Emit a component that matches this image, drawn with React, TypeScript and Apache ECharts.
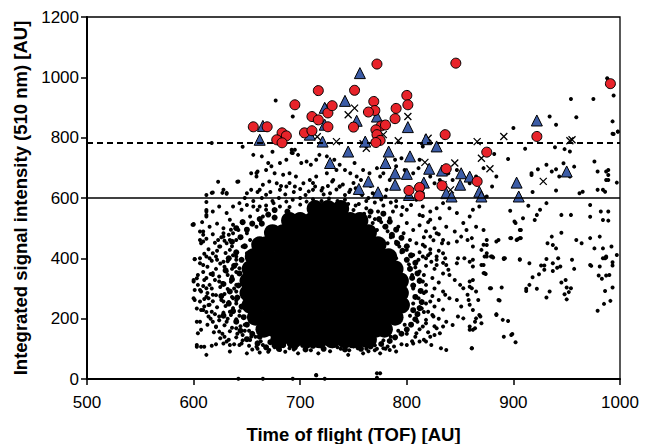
import React, { useEffect, useRef } from "react";
import * as echarts from "echarts";

const dashedThreshold = 782;
const solidThreshold = 600;

// Dense core of the cloud: rows [y, x positions]
const coreRows: [number, number[]][] = [
  [565, [714, 726, 738]],
  [525, [690, 700, 711, 723, 735, 747, 756]],
  [485, [674, 684, 695, 707, 719, 731, 743, 755, 764]],
  [445, [662, 668, 680, 692, 704, 716, 728, 740, 752, 763, 773]],
  [405, [656, 661, 670, 682, 694, 706, 718, 730, 742, 754, 766, 776, 783]],
  [365, [653, 664, 676, 688, 700, 712, 724, 736, 748, 760, 772, 782, 789]],
  [325, [651, 659, 671, 683, 695, 707, 719, 731, 743, 755, 767, 779, 789, 794]],
  [285, [651, 664, 676, 688, 700, 712, 724, 736, 748, 760, 772, 784, 794]],
  [245, [653, 660, 672, 684, 696, 708, 720, 732, 744, 756, 768, 780, 791, 795]],
  [205, [658, 670, 682, 694, 706, 718, 730, 742, 754, 766, 778, 789]],
  [165, [666, 676, 688, 700, 712, 724, 736, 748, 760, 771, 779]],
  [130, [680, 694, 706, 718, 730, 742, 754, 764]],
];

// Crowded edge of the cloud (medium dots)
const rimDots: number[][] = [
  [646,520],[640,500],[650,495],[644,470],[636,455],[648,440],[640,420],[633,400],[645,395],[638,375],[630,360],[643,350],[636,330],[628,315],[642,310],[634,290],[626,275],[641,270],[633,250],[645,240],[637,225],[628,210],[647,205],[640,190],[650,180],[644,160],[655,150],[650,132],[662,140],[660,118],[672,122],[668,105],[684,112],[680,100],[695,105],[705,98],[712,110],[722,100],[730,112],[742,98],[748,112],[757,100],[766,108],[776,116],[784,126],[789,138],[795,150],[800,164],[804,180],[808,198],[810,215],[812,235],[806,228],[814,255],[808,272],[813,292],[806,310],[812,325],[805,335],[810,350],[803,365],[808,385],[800,395],[804,410],[796,425],[800,440],[791,450],[795,468],[786,478],[790,495],[780,505],[784,522],[774,530],[778,548],[766,555],[676,560],[670,545],[662,530],[655,515],[664,515],[676,535],[688,555],
];

// Speckled fringe around the crowded core
const fringeDots: number[][] = [
  [608,520],[615,505],[622,515],[628,500],[635,495],[618,480],[626,470],[633,478],[612,465],[620,452],[629,458],[636,440],[614,430],[622,425],[630,418],[637,410],[610,415],[617,392],[625,383],[632,390],[640,395],[613,372],[621,365],[629,372],[636,365],[609,355],[616,348],[624,340],[632,345],[640,355],[612,335],[620,328],[627,318],[635,322],[609,308],[617,300],[625,305],[632,298],[640,290],[613,285],[621,278],[629,282],[636,272],[610,265],[618,258],[626,262],[633,255],[640,260],[614,245],[622,238],[630,242],[637,235],[612,222],[620,215],[628,220],[635,212],[643,225],[616,200],[624,195],[632,200],[640,198],[613,180],[621,172],[629,178],[636,170],[644,175],[619,155],[627,150],[634,158],[641,150],[648,160],[625,135],[633,130],[640,138],[646,128],[654,140],[638,115],[645,118],[652,110],[660,100],[670,90],
  [660,560],[668,575],[674,590],[680,600],[686,612],[694,620],[700,630],[708,622],[714,638],[720,625],[726,640],[734,628],[740,645],[746,620],[752,632],[758,610],[764,600],[770,612],[776,595],[682,640],[690,650],[712,650],[730,655],[750,650],[766,640],[780,605],[785,585],[790,590],[796,570],[672,620],[664,600],[656,590],[648,600],[660,620],
  [815,540],[820,520],[812,510],[826,500],[818,490],[830,480],[816,470],[825,460],[833,450],[815,445],[822,430],[830,425],[812,420],[820,410],[828,395],[834,385],[818,375],[826,365],[834,350],[816,345],[824,335],[830,320],[818,312],[826,300],[834,290],[816,285],[824,275],[830,262],[818,250],[826,240],[834,230],[816,222],[824,212],[830,200],[818,185],[826,175],[812,165],[820,155],[808,140],[816,130],[805,125],[795,115],[788,108],[780,100],[770,95],[762,100],
  [655,98],[662,88],[676,105],[686,90],[694,98],[702,110],[710,95],[720,108],[728,92],[738,100],[746,95],[754,102],[764,92],[772,100],[782,108],
];

const cloudDots: number[][] = [
  [656,743],[664,738],[673,705],[681,716],[687,727],[693,749],[695,760],[698,743],[701,716],[706,721],[710,710],[715,727],[718,743],[725,738],[654,682],[660,688],[659,671],[668,693],[676,682],[678,649],[684,677],[690,682],[696,671],[671,655],[665,644],[662,627],[654,627],[642,655],[628,627],[618,618],[631,614],[650,616],[668,611],[681,627],[687,638],[695,638],[703,649],[709,660],[715,671],[725,682],[731,660],[734,693],[712,627],[721,633],[728,616],[737,638],
  [600,511],[609,489],[606,461],[607,450],[612,555],[612,539],[618,555],[624,572],[631,550],[637,572],[643,583],[645,561],[650,577],[653,539],[656,572],[634,528],[637,511],[642,494],[628,483],[623,461],[631,450],[624,439],[618,417],[612,406],[606,400],[646,517],[650,483],[659,505],[665,539],[662,572],[668,561],[675,583],[681,572],[687,588],[640,461],[646,439],[653,461],[634,428],[640,406],[659,428],[650,417],
  [693,594],[700,600],[706,588],[712,596],[720,590],[727,598],[735,590],[742,594],[700,578],[716,580],[730,578],[745,580],[752,575],[690,570],[742,610],[722,612],[705,610],
  [601,398],[609,378],[615,400],[621,406],[600,328],[604,345],[604,312],[610,328],[612,301],[607,290],[601,295],[600,268],[606,257],[610,240],[607,229],[615,246],[617,223],[614,207],[603,190],[607,163],[618,190],[621,174],[624,207],[624,157],[629,140],[631,124],[634,113],[628,118],[621,115],[617,110],[603,113],[610,107],[612,80],[634,91],[650,85],[643,113],[659,107],[665,113],[671,96],[681,96],[690,102],[698,85],[706,113],[715,124],[717,85],[725,118],[715,13],[628,389],[631,356],[624,323],[634,290],[628,257],[634,223],[631,190],[640,168],[646,146],[653,129],[637,268],[640,312],[643,367],[618,345],[618,279],[614,268],
  [640,380],[636,340],[638,300],[640,250],[643,210],[648,180],[652,160],[658,140],[663,125],[675,110],[690,112],[735,105],[750,108],[760,112],[768,118],
  [732,727],[737,710],[742,693],[747,682],[751,716],[753,671],[759,693],[757,660],[765,682],[772,699],[775,671],[778,682],[784,660],[789,727],[790,705],[795,732],[798,693],[800,671],[806,682],[811,699],[812,727],[815,771],[822,671],[826,649],[831,660],[839,682],[843,660],[847,693],[851,638],[859,649],[865,671],[872,699],[875,605],[868,572],[862,561],[859,539],[853,517],[847,550],[840,566],[834,583],[828,566],[822,555],[815,572],[812,544],[809,594],[804,577],[800,561],[795,544],[790,572],[787,555],[784,533],[822,528],[831,533],[837,505],[845,489],[851,472],[857,461],[862,439],[870,428],[875,461],[872,494],[865,505],[856,494],[847,456],[839,450],[834,461],[828,483],[822,472],[817,439],[822,417],[828,406],[834,417],[815,406],[809,450],[803,461],[806,494],[797,483],[800,517],[792,505],[787,472],[782,450],[778,428],[784,411],[793,439],[800,428],[806,411],[811,395],[790,400],[775,461],[772,494],[779,505],[768,517],[765,539],[773,555],[762,566],[747,627],[756,616],[737,638],[768,616],[781,627],[800,627],[809,638],[815,616],
  [755,580],[762,590],[770,585],[778,575],[750,560],[760,548],[770,530],[776,520],[782,490],[785,470],[790,455],[795,420],
  [818,400],[823,389],[828,378],[836,400],[837,378],[839,362],[840,345],[847,384],[848,400],[854,400],[859,389],[862,373],[870,378],[872,351],[875,406],[845,328],[850,312],[853,301],[859,306],[862,328],[857,279],[865,290],[836,279],[840,268],[847,262],[851,240],[859,246],[862,229],[865,201],[868,212],[870,185],[859,163],[864,168],[853,201],[848,207],[843,179],[837,190],[834,174],[831,152],[826,146],[822,140],[828,168],[818,124],[823,113],[832,102],[837,96],[861,102],[812,124],[806,118],[800,113],[790,91],[784,96],[778,102],[775,85],[759,85],[745,80],[775,19],[825,207],[818,196],[815,174],[809,152],[809,389],[812,356],[815,323],[818,290],[822,257],[820,223],[806,312],[811,268],[814,234],
  [802,380],[805,345],[806,300],[806,250],[803,210],[798,180],[792,160],[785,140],[778,128],[770,112],[800,150],[810,190],[812,330],[808,370],
];

const outlierDots: number[][] = [
  [911,763],[895,729],[882,746],[884,671],[880,638],[917,682],[923,695],[931,710],[936,688],[940,695],[943,671],[947,715],[953,671],[957,704],[962,616],[965,621],[940,625],[918,620],[976,721],[979,688],[987,688],[989,693],[987,660],[997,651],[979,627],[986,621],[993,813],[998,820],[939,768],[948,762],[953,754],[972,577],[931,583],[925,561],[922,544],[920,527],[909,533],[901,522],[897,558],[914,574],[945,544],[954,544],[972,538],[982,555],[989,555],[984,527],[989,525],[906,494],[907,467],[904,463],[898,467],[886,461],[875,444],[945,485],[936,472],[932,450],[937,444],[940,433],[959,461],[964,450],[972,467],[981,472],[976,433],[984,433],[992,439],[997,411],[987,406],[986,400],[879,406],[892,400],[906,397],[942,400],
  [873,406],[881,403],[891,398],[906,395],[915,384],[926,376],[929,376],[931,398],[937,384],[941,369],[944,373],[929,362],[937,358],[924,347],[918,337],[915,312],[912,299],[912,292],[922,299],[934,290],[931,270],[945,320],[949,328],[950,303],[954,301],[948,281],[952,288],[950,264],[955,395],[957,365],[972,378],[973,375],[981,373],[984,400],[987,403],[993,387],[993,376],[980,343],[983,332],[987,343],[990,345],[986,292],[993,303],[991,259],[985,249],[979,226],[872,378],[874,348],[879,301],[889,303],[887,260],[884,215],[890,196],[895,192],[891,140],[899,149],[902,122],
  [861,467],[872,445],[875,417],[880,406],[884,456],[891,400],[897,467],[903,461],[906,467],[907,494],[902,517],[862,395],[859,323],[861,301],[858,262],[869,207],[864,190],[859,174],[861,102],[862,163],[867,262],[873,351],[878,301],[886,262],[884,212],[898,146],
  [988,997],[994,940],[954,928],[975,928],[934,870],[940,843],[959,868],[993,854],[994,812],[998,820],[900,832],[917,676],[989,660],[989,676],[984,627],
  [612,610],[617,617],[612,587],[612,560],[612,544],[599,511],[623,654],[641,654],[631,617],[646,770],[659,683],[670,716],[674,753],[692,760],[692,750],[617,782],[627,617],[677,923],[693,870],[600,514],[606,489],[609,478],[609,456],[601,397],[606,384],[603,334],[600,323],[606,295],[601,262],[603,234],[606,190],[604,152],[603,107],[607,107],[609,229],[612,273],[615,312],[618,351],[622,395],[625,439],[628,472],[634,461],[637,483],
  [642,1],[665,1],[693,1],[715,12],[723,1],[772,19],[772,4],
];

const redCircles: number[][] = [
  [656,836],[669,836],[683,816],[678,793],[687,806],[683,783],[695,909],[717,956],[711,870],[717,859],[726,882],[726,836],[704,816],[711,823],[772,1044],[846,1047],[991,979],[751,957],[730,906],[769,920],[770,890],[764,885],[750,835],[800,940],[801,909],[790,897],[789,863],[776,839],[780,842],[771,826],[772,810],[775,791],[771,784],[836,810],[875,752],[922,804],[837,697],[833,641],[866,655],[802,625],[812,635],[812,607],
];

const blueTriangles: number[][] = [
  [665,839],[662,793],[721,787],[723,899],[723,843],[709,810],[756,1014],[742,922],[753,856],[772,870],[801,835],[922,857],[761,787],[818,795],[828,771],[745,754],[783,754],[803,738],[780,716],[728,716],[821,697],[789,682],[800,680],[833,691],[851,682],[859,671],[764,655],[789,644],[816,651],[850,644],[903,651],[950,688],[755,630],[773,619],[802,610],[837,616],[842,605],[868,621],[870,605],[905,605],
];

const crosses: number[][] = [
  [726,903],[716,803],[751,898],[745,876],[801,870],[778,810],[734,787],[759,780],[762,765],[792,790],[820,798],[866,787],[891,804],[955,793],[953,790],[870,732],[878,697],[845,716],[817,718],[928,655],[841,627],[834,644],
];

const FONT = "'Liberation Sans', Arial, Helvetica, sans-serif";

export default function App() {
  const ref = useRef<HTMLDivElement>(null);
  useEffect(() => {
    if (!ref.current) return;
    const chart = echarts.init(ref.current, undefined, { renderer: "svg" });
    const coreDots: number[][] = [];
    coreRows.forEach(([y, xs]) => xs.forEach((x) => coreDots.push([x, y])));
    const black = { color: "#000", opacity: 1 };
    chart.setOption({
      animation: false,
      backgroundColor: "#fff",
      grid: {
        left: 87, right: 37, top: 17, bottom: 65,
        outerBoundsMode: "none", containLabel: false,
        show: true, borderColor: "#000", borderWidth: 1.3, backgroundColor: "transparent",
      },
      xAxis: {
        type: "value", min: 500, max: 1000, interval: 100,
        name: "Time of flight (TOF) [AU]", nameLocation: "middle", nameGap: 46,
        nameTextStyle: { fontFamily: FONT, fontSize: 18.5, fontWeight: "bold", color: "#000" },
        axisLine: { show: true, lineStyle: { color: "#000", width: 2 } },
        axisTick: { show: true, length: 6, lineStyle: { color: "#000", width: 1.5 } },
        axisLabel: { margin: 15, fontSize: 17, color: "#000", fontFamily: FONT, formatter: (v: number) => String(v) },
        splitLine: { show: false },
      },
      yAxis: {
        type: "value", min: 0, max: 1200, interval: 200,
        name: "Integrated signal intensity (510 nm) [AU]", nameLocation: "middle", nameGap: 48,
        nameTextStyle: { fontFamily: FONT, fontSize: 18.5, fontWeight: "bold", color: "#000" },
        axisLine: { show: true, lineStyle: { color: "#000", width: 2 } },
        axisTick: { show: true, length: 6, lineStyle: { color: "#000", width: 1.5 } },
        axisLabel: { margin: 8, fontSize: 17, color: "#000", fontFamily: FONT, formatter: (v: number) => String(v) },
        splitLine: { show: false },
      },
      series: [
        { type: "scatter", data: coreDots, symbol: "circle", symbolSize: 17, itemStyle: black, silent: true, z: 2 },
        { type: "scatter", data: rimDots, symbol: "circle", symbolSize: 6, itemStyle: black, silent: true, z: 2 },
        { type: "scatter", data: fringeDots, symbol: "circle", symbolSize: 4, itemStyle: black, silent: true, z: 2 },
        { type: "scatter", data: cloudDots, symbol: "circle", symbolSize: 4, itemStyle: black, silent: true, z: 2 },
        { type: "scatter", data: outlierDots, symbol: "circle", symbolSize: 4, itemStyle: black, silent: true, z: 2 },
        {
          type: "scatter", data: crosses, symbol: "path://M0,0L10,10M10,0L0,10", symbolSize: 7,
          itemStyle: { color: "rgba(0,0,0,0)", borderColor: "#000", borderWidth: 1.3, opacity: 1 }, silent: true, z: 3,
        },
        {
          type: "scatter", data: blueTriangles, symbol: "triangle", symbolSize: 11,
          itemStyle: { color: "#3c5ca6", borderColor: "#000", borderWidth: 1, opacity: 1 }, silent: true, z: 4,
        },
        {
          type: "scatter", data: redCircles, symbol: "circle", symbolSize: 10,
          itemStyle: { color: "#e8232a", borderColor: "#000", borderWidth: 1, opacity: 1 }, silent: true, z: 5,
          markLine: {
            silent: true, symbol: "none", label: { show: false },
            data: [
              { yAxis: dashedThreshold, lineStyle: { color: "#000", width: 2, type: [6, 4] } },
              { yAxis: solidThreshold, lineStyle: { color: "#000", width: 1.5, type: "solid" } },
            ],
          },
        },
      ],
    });
    return () => chart.dispose();
  }, []);
  return <div ref={ref} style={{ position: "fixed", left: 0, top: 0, width: 657, height: 444 }} />;
}
